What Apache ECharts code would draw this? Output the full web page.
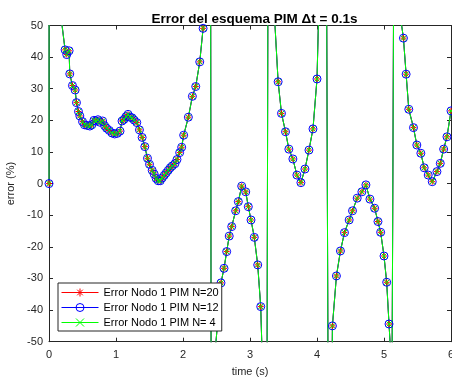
<!DOCTYPE html>
<html>
<head>
<meta charset="utf-8">
<script src="https://cdn.jsdelivr.net/npm/echarts@6/dist/echarts.min.js"></script>
<style>
  html, body { margin: 0; padding: 0; background: #fff; }
  #chart { width: 452px; height: 381px; }
</style>
</head>
<body>
<div id="chart"></div>
<script>
// tiempos (s); los puntos fuera de rango son los saltos de la curva
const timeS = [
  0, 0.05, 0.15, 0.24, 0.265, 0.30, 0.31, 0.35, 0.39, 0.41, 0.44, 0.46,
  0.50, 0.53, 0.57, 0.61, 0.64, 0.67, 0.70, 0.73, 0.76, 0.80, 0.83, 0.86,
  0.90, 0.94, 0.98, 1.02, 1.06, 1.09, 1.12, 1.15, 1.18, 1.21, 1.24, 1.27,
  1.31, 1.35, 1.39, 1.43, 1.47, 1.50, 1.54, 1.57, 1.60, 1.63, 1.66, 1.69,
  1.72, 1.75, 1.78, 1.81, 1.84, 1.88, 1.91, 1.95, 1.98, 2.01, 2.08, 2.14,
  2.19, 2.25, 2.30, 2.40, 2.42,
  2.567, 2.612, 2.652, 2.69, 2.727, 2.786, 2.826, 2.876, 2.936, 2.975,
  3.015, 3.064, 3.115, 3.16, 3.25, 3.27,
  3.42, 3.47, 3.53, 3.58, 3.64, 3.70, 3.76, 3.82, 3.88, 3.94, 4.00, 4.13, 4.185,
  4.23, 4.29, 4.35, 4.41, 4.48, 4.53, 4.60, 4.67, 4.73, 4.79, 4.86, 4.91,
  4.95, 5.00, 5.04, 5.075, 5.12, 5.145,
  5.29, 5.33, 5.37, 5.44, 5.49, 5.55, 5.60, 5.66, 5.72, 5.79, 5.84, 5.89,
  5.94, 6.00
];

// error (%) -- las tres curvas (N=20, N=12, N=4) se superponen en el grafico
const errValues = [
  0, 3000, 57.7, 42.3, 40.8, 42.0, 34.7, 31.0, 29.6, 25.6, 22.8, 21.4,
  19.6, 18.6, 18.4, 18.2, 18.6, 20.0, 19.8, 20.2, 19.4, 19.8, 18.3, 17.5,
  16.8, 16.0, 15.7, 15.9, 16.6, 19.8, 20.3, 21.2, 21.9, 21.0, 20.8, 20.1,
  19.3, 17.0, 14.6, 11.7, 8.0, 6.1, 4.2, 3.0, 1.6, 0.9, 0.9, 1.8,
  2.6, 3.4, 4.2, 5.0, 5.6, 6.3, 7.6, 9.8, 11.5, 15.3, 21.0, 27.6,
  30.7, 38.5, 49.1, 300, -68,
  -31.4, -26.8, -21.5, -16.6, -13.6, -8.6, -5.7, -0.8, -2.6, -7.3,
  -11.5, -17.0, -25.7, -38.9, -105, 89,
  32.2, 22.2, 16.4, 10.9, 7.8, 2.7, 0.3, 4.6, 10.6, 17.3, 33.1, 143, -180,
  -45.0, -29.2, -21.3, -15.5, -11.5, -8.6, -4.6, -2.6, -0.4, -4.9, -7.8, -12.0,
  -15.4, -22.9, -31.2, -44.4, -61.2, 68,
  46.0, 34.6, 23.5, 17.7, 12.2, 9.6, 5.0, 2.7, 0.6, 3.8, 6.4, 10.9,
  14.8, 23.0
];

const seriesNames = ['Error Nodo 1 PIM N=20', 'Error Nodo 1 PIM N=12', 'Error Nodo 1 PIM N= 4'];
const xTicks = [0, 1, 2, 3, 4, 5, 6];
const yTicks = [-50, -40, -30, -20, -10, 0, 10, 20, 30, 40, 50];

const pts = timeS.map((t, i) => [t, errValues[i]]);

const axisColor = '#262626';
const font = 'Liberation Sans, Arial, Helvetica, sans-serif';

const asterisk = 'path://M5,0L5,10M0,5L10,5M1.5,1.5L8.5,8.5M1.5,8.5L8.5,1.5';
const cross = 'path://M0,0L10,10M0,10L10,0';

function mkSeries(name, color, symbol, size) {
  return {
    name: name,
    type: 'line',
    data: pts,
    symbol: symbol,
    symbolSize: size,
    showAllSymbol: true,
    clip: true,
    animation: false,
    lineStyle: { color: color, width: 1 },
    itemStyle: { color: 'rgba(0,0,0,0)', borderColor: color, borderWidth: 1 },
    emphasis: { disabled: true }
  };
}

const chart = echarts.init(document.getElementById('chart'));
chart.setOption({
  backgroundColor: '#fff',
  animation: false,
  title: {
    text: 'Error del esquema PIM \u0394t = 0.1s',
    left: 249.5,
    textAlign: 'center',
    top: 7,
    textStyle: { fontFamily: font, fontSize: 13.5, fontWeight: 'bold', color: '#000' }
  },
  grid: { left: 49, right: 1, top: 25.5, bottom: 39.3, outerBoundsMode: 'none' },
  legend: {
    orient: 'vertical',
    left: 58,
    top: 283,
    padding: [4, 3, 3, 3],
    itemWidth: 37,
    itemHeight: 10,
    itemGap: 4,
    backgroundColor: '#fff',
    borderColor: axisColor,
    borderWidth: 1,
    borderRadius: 0,
    lineStyle: { width: 1 },
    itemStyle: { borderWidth: 1 },
    textStyle: { fontFamily: font, fontSize: 11, color: '#000' },
    data: seriesNames
  },
  xAxis: [{
    type: 'value',
    min: xTicks[0], max: xTicks[xTicks.length - 1], interval: 1,
    name: 'time (s)', nameLocation: 'middle', nameGap: 25,
    nameTextStyle: { fontFamily: font, fontSize: 11, color: axisColor },
    axisLine: { show: true, onZero: false, lineStyle: { color: axisColor, width: 1 } },
    axisTick: { inside: true, length: 4, lineStyle: { color: axisColor } },
    axisLabel: { fontFamily: font, fontSize: 11, color: axisColor, margin: 8 },
    splitLine: { show: false }
  }, {
    type: 'value', position: 'top',
    min: xTicks[0], max: xTicks[xTicks.length - 1], interval: 1,
    axisLine: { show: true, onZero: false, lineStyle: { color: axisColor, width: 1 } },
    axisTick: { inside: true, length: 4, lineStyle: { color: axisColor } },
    axisLabel: { show: false },
    splitLine: { show: false }
  }],
  yAxis: [{
    type: 'value',
    min: yTicks[0], max: yTicks[yTicks.length - 1], interval: 10,
    name: 'error (%)', nameLocation: 'middle', nameGap: 30,
    nameTextStyle: { fontFamily: font, fontSize: 11, color: axisColor },
    axisLine: { show: true, onZero: false, lineStyle: { color: axisColor, width: 1 } },
    axisTick: { show: true, inside: true, length: 4, lineStyle: { color: axisColor } },
    axisLabel: { fontFamily: font, fontSize: 11, color: axisColor, margin: 6 },
    splitLine: { show: false }
  }, {
    type: 'value', position: 'right',
    min: yTicks[0], max: yTicks[yTicks.length - 1], interval: 10,
    axisLine: { show: true, onZero: false, lineStyle: { color: axisColor, width: 1 } },
    axisTick: { show: true, inside: true, length: 4, lineStyle: { color: axisColor } },
    axisLabel: { show: false },
    splitLine: { show: false }
  }],
  series: [
    mkSeries(seriesNames[0], '#ff0000', asterisk, 6),
    mkSeries(seriesNames[1], '#0000ff', 'circle', 8),
    mkSeries(seriesNames[2], '#00ff00', cross, 5)
  ]
});
</script>
</body>
</html>
